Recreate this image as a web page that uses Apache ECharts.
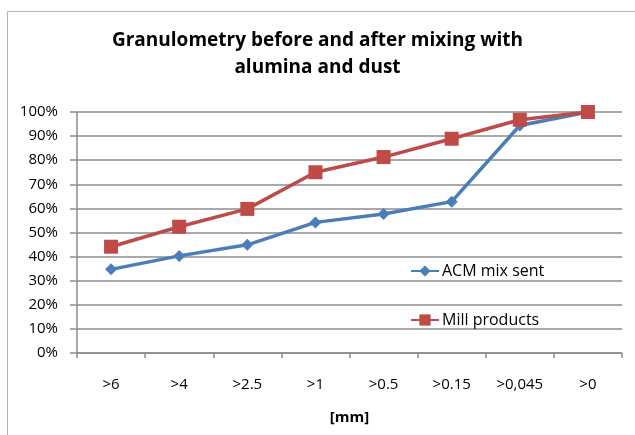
<!DOCTYPE html>
<html>
<head>
<meta charset="utf-8">
<script src="https://cdn.jsdelivr.net/npm/echarts@6/dist/echarts.min.js"></script>
<style>
html,body{margin:0;padding:0;background:#fff;}
#chart{width:635px;height:435px;}
</style>
</head>
<body>
<div id="chart"></div>
<script>
var categories = ['>6', '>4', '>2.5', '>1', '>0.5', '>0.15', '>0,045', '>0'];
var acmMixSent = [0.347, 0.403, 0.449, 0.542, 0.577, 0.628, 0.944, 1.0];
var millProducts = [0.441, 0.524, 0.598, 0.750, 0.813, 0.889, 0.968, 1.0];
var yTicks = [0, 0.1, 0.2, 0.3, 0.4, 0.5, 0.6, 0.7, 0.8, 0.9, 1.0];

var FONT = 'Open Sans';
var chart = echarts.init(document.getElementById('chart'), null, {renderer: 'canvas'});
chart.setOption({
  animation: false,
  backgroundColor: '#ffffff',
  graphic: [{
    type: 'polyline',
    shape: {points: [[7.5, 440], [7.5, 11.5], [640, 11.5]]},
    style: {stroke: '#b3b3b3', lineWidth: 1, fill: null},
    silent: true
  }],
  title: {
    text: 'Granulometry before and after mixing with\nalumina and dust',
    left: 'center',
    top: 22,
    textStyle: {fontFamily: FONT, fontWeight: 'bold', fontSize: 19, color: '#000', lineHeight: 27}
  },
  legend: {
    orient: 'vertical',
    left: 410,
    top: 263,
    padding: 0,
    itemWidth: 28,
    itemHeight: 14,
    itemGap: 33,
    textStyle: {fontFamily: FONT, fontSize: 16, color: '#000', padding: [0, 0, 0, -2]},
    data: ['ACM mix sent', 'Mill products']
  },
  grid: {left: 77, right: 13, top: 112, bottom: 82, containLabel: false},
  xAxis: {
    type: 'category',
    data: categories,
    boundaryGap: true,
    name: '[mm]',
    nameLocation: 'middle',
    nameGap: 57,
    nameTextStyle: {fontFamily: FONT, fontWeight: 'bold', fontSize: 15, color: '#000'},
    axisLine: {lineStyle: {color: '#8c8c8c', width: 1.5}},
    axisTick: {show: true, alignWithLabel: false, length: 5, lineStyle: {color: '#8c8c8c', width: 1.5}},
    axisLabel: {fontFamily: FONT, fontSize: 15, color: '#000', margin: 24}
  },
  yAxis: {
    type: 'value',
    min: yTicks[0],
    max: yTicks[yTicks.length - 1],
    interval: 0.1,
    axisLine: {show: true, lineStyle: {color: '#8c8c8c', width: 1.5}},
    axisTick: {show: true, length: 7, lineStyle: {color: '#8c8c8c', width: 1.5}},
    axisLabel: {fontFamily: FONT, fontSize: 15, color: '#000', margin: 19,
      formatter: function (v) { return Math.round(v * 100) + '%'; }},
    splitLine: {show: true, lineStyle: {color: '#8c8c8c', width: 1.5}}
  },
  series: [
    {
      name: 'ACM mix sent',
      type: 'line',
      data: acmMixSent,
      symbol: 'diamond',
      symbolSize: 12,
      lineStyle: {color: '#4a7ebb', width: 3.5},
      itemStyle: {color: '#4a7ebb'}
    },
    {
      name: 'Mill products',
      type: 'line',
      data: millProducts,
      symbol: 'rect',
      symbolSize: 14,
      lineStyle: {color: '#be4b48', width: 3.5},
      itemStyle: {color: '#be4b48'}
    }
  ]
});
</script>
</body>
</html>
